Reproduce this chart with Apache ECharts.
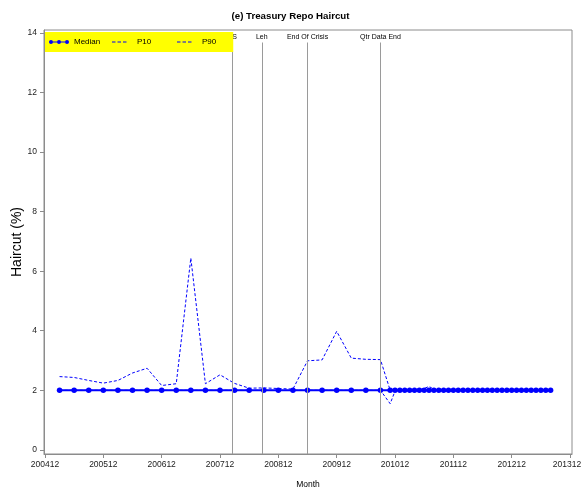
<!DOCTYPE html>
<html>
<head>
<meta charset="utf-8">
<script src="https://cdn.jsdelivr.net/npm/echarts@6/dist/echarts.min.js"></script>
<style>
  html, body { margin: 0; padding: 0; background: #fff; }
  #chart { width: 581px; height: 493px; }
</style>
</head>
<body>
<div id="chart"></div>
<script>
// Observation months (quarterly through 201009, monthly afterwards)
const months = [
  '200503','200506','200509','200512','200603','200606','200609','200612',
  '200703','200706','200709','200712','200803','200806','200809','200812',
  '200903','200906','200909','200912','201003','201006','201009',
  '201011','201012',
  '201101','201102','201103','201104','201105','201106','201107','201108','201109','201110','201111','201112',
  '201201','201202','201203','201204','201205','201206','201207','201208','201209','201210','201211','201212',
  '201301','201302','201303','201304','201305','201306','201307','201308'
];

// Haircut percentiles (%)
const median = [
  2,2,2,2,2,2,2,2,
  2,2,2,2,2,2,2,2,
  2,2,2,2,2,2,2,
  2,2,
  2,2,2,2,2,2,2,2,2,2,2,2,
  2,2,2,2,2,2,2,2,2,2,2,2,
  2,2,2,2,2,2,2,2
];
const p10 = [
  2,2,2,2,2,2,2,2,
  2,2,2,2,2,2,2,2,
  2,2,2,2,2,2,2,
  1.55,1.97,
  2,2,2,2,2,2,2,2,2,2,2,2,
  2,2,2,2,2,2,2,2,2,2,2,2,
  2,2,2,2,2,2,2,2
];
const p90 = [
  2.46,2.43,2.33,2.24,2.33,2.58,2.74,2.16,
  2.22,6.44,2.22,2.52,2.23,2.07,2.08,2.06,
  2.04,2.99,3.02,3.98,3.08,3.04,3.03,
  2.0,2.0,
  2.0,2.0,2.0,2.0,2.02,2.06,2.13,2.03,2.0,2.0,2.0,2.0,
  2.0,2.0,2.02,2.03,2.0,2.0,2.03,2.02,2.0,2.0,2.0,2.0,
  2.0,2.0,2.0,2.0,2.0,2.0,2.0,2.0
];

// Event markers
const eventNames = ['BS', 'Leh', 'End Of Crisis', 'Qtr Data End'];
const eventDates = ['2008-02-16', '2008-08-19', '2009-06-01', '2010-09-01'];

// Axis ticks
const xTickLabels = ['200412','200512','200612','200712','200812','200912','201012','201112','201212','201312'];
const yTicks = [0, 2, 4, 6, 8, 10, 12, 14];

// Months elapsed since December 2004 (optionally with a fractional day part)
function toMonthIndex(s) {
  let y, m, d = 1;
  if (s.indexOf('-') >= 0) {
    const parts = s.split('-');
    y = +parts[0]; m = +parts[1]; d = +parts[2];
  } else {
    y = +s.slice(0, 4); m = +s.slice(4, 6);
  }
  return (y - 2004) * 12 + (m - 12) + (d - 1) / 30;
}
function toLabel(v) {
  const total = Math.round(v) + 2004 * 12 + 11;
  const y = Math.floor(total / 12);
  const m = total % 12 + 1;
  return y + (m < 10 ? '0' : '') + m;
}

const xTickValues = xTickLabels.map(toMonthIndex);
const xLast = xTickValues[xTickValues.length - 1];
const pairs = arr => months.map((mo, i) => [toMonthIndex(mo), arr[i]]);

const FONT = '"Liberation Sans", Arial, sans-serif';
const BLUE = '#0000ff';
const FRAME = '#8c8c8c';

// Legend glyphs: a 20x8 box each (the leading moves fix the bounds)
const ICON_MEDIAN = 'path://M0,0 M20,8 M0,3.4H20V4.6H0Z M0,4a2,2 0 1,1 4,0a2,2 0 1,1 -4,0Z M8,4a2,2 0 1,1 4,0a2,2 0 1,1 -4,0Z M16,4a2,2 0 1,1 4,0a2,2 0 1,1 -4,0Z';
const ICON_DASH = 'path://M0,0 M20,8 M0,3.5H3.5V4.5H0Z M5.5,3.5H9V4.5H5.5Z M11,3.5H14.5V4.5H11Z';

// One legend block per entry so each sits in its own fixed-width column
const legendEntries = [
  { name: 'Median', icon: ICON_MEDIAN, left: 45, pad: [6, 12, 6, 4] },
  { name: 'P10', icon: ICON_DASH, left: 108, pad: [6, 24, 6, 4] },
  { name: 'P90', icon: ICON_DASH, left: 173, pad: [6, 17, 6, 4] }
];
const legends = legendEntries.map(e => ({
  left: e.left, top: 32,
  z: 20,
  backgroundColor: '#ffff00',
  padding: e.pad,
  itemWidth: 20,
  itemHeight: 8,
  itemGap: 0,
  selectedMode: false,
  textStyle: { fontSize: 8, color: '#000', fontFamily: FONT },
  data: [{ name: e.name, icon: e.icon, itemStyle: { color: BLUE } }]
}));

const eventLines = eventNames.map((name, i) => {
  const x = toMonthIndex(eventDates[i]);
  return [{ coord: [x, -0.14], name: name }, { coord: [x, 13.68] }];
});

const chart = echarts.init(document.getElementById('chart'), null, { renderer: 'canvas' });
chart.setOption({
  animation: false,
  backgroundColor: '#fff',
  textStyle: { fontFamily: FONT },
  title: {
    text: '(e) Treasury Repo Haircut',
    left: 'center',
    top: 6,
    textStyle: { fontSize: 9.7, fontWeight: 'bold', color: '#000', fontFamily: FONT }
  },
  grid: {
    left: 44, right: 9, top: 30, bottom: 39,
    containLabel: false,
    outerBoundsMode: 'none',
    show: true, borderColor: FRAME, borderWidth: 1, backgroundColor: 'transparent'
  },
  legend: legends,
  xAxis: {
    type: 'value',
    min: -0.2, max: 108.4,
    name: 'Month',
    nameLocation: 'middle',
    nameGap: 26,
    nameMoveOverlap: false,
    nameTextStyle: { fontSize: 8.5, color: '#000', fontFamily: FONT },
    axisLine: { show: true, onZero: false, lineStyle: { color: FRAME, width: 1 } },
    axisTick: { show: true, length: 4, customValues: xTickValues, lineStyle: { color: FRAME } },
    axisLabel: {
      customValues: xTickValues,
      // the last label is nudged left so it stays inside the canvas
      formatter: v => (Math.abs(v - xLast) < 1e-6 ? '{r|' + toLabel(v) + '}' : toLabel(v)),
      rich: { r: { padding: [0, 6, 0, 0], fontSize: 8.5, color: '#222', fontFamily: FONT } },
      fontSize: 8.5, color: '#222', margin: 6, fontFamily: FONT
    },
    splitLine: { show: false }
  },
  yAxis: {
    type: 'value',
    min: -0.14, max: 14.1,
    name: 'Haircut (%)',
    nameLocation: 'middle',
    nameGap: 20,
    nameMoveOverlap: false,
    nameTextStyle: { fontSize: 14, color: '#000', fontFamily: FONT },
    axisLine: { show: true, onZero: false, lineStyle: { color: FRAME, width: 1 } },
    axisTick: { show: true, length: 4, customValues: yTicks, lineStyle: { color: FRAME } },
    axisLabel: {
      customValues: yTicks,
      fontSize: 8.5, color: '#222', margin: 7, fontFamily: FONT
    },
    splitLine: { show: false }
  },
  series: [
    {
      name: 'P10',
      type: 'line',
      data: pairs(p10),
      symbol: 'none',
      z: 2,
      lineStyle: { color: BLUE, width: 1, type: [3, 2] },
      itemStyle: { color: BLUE }
    },
    {
      name: 'P90',
      type: 'line',
      data: pairs(p90),
      symbol: 'none',
      z: 2,
      lineStyle: { color: BLUE, width: 1, type: [3, 2] },
      itemStyle: { color: BLUE }
    },
    {
      name: 'Median',
      type: 'line',
      data: pairs(median),
      symbol: 'circle',
      symbolSize: 5.5,
      z: 3,
      lineStyle: { color: BLUE, width: 2 },
      itemStyle: { color: BLUE },
      markLine: {
        silent: true,
        symbol: ['none', 'none'],
        animation: false,
        lineStyle: { color: '#9a9a9a', width: 1, type: 'solid' },
        label: {
          show: true,
          position: 'end',
          distance: 2,
          formatter: p => p.name,
          fontSize: 7,
          color: '#000',
          fontFamily: FONT
        },
        data: eventLines
      }
    }
  ]
});
</script>
</body>
</html>
